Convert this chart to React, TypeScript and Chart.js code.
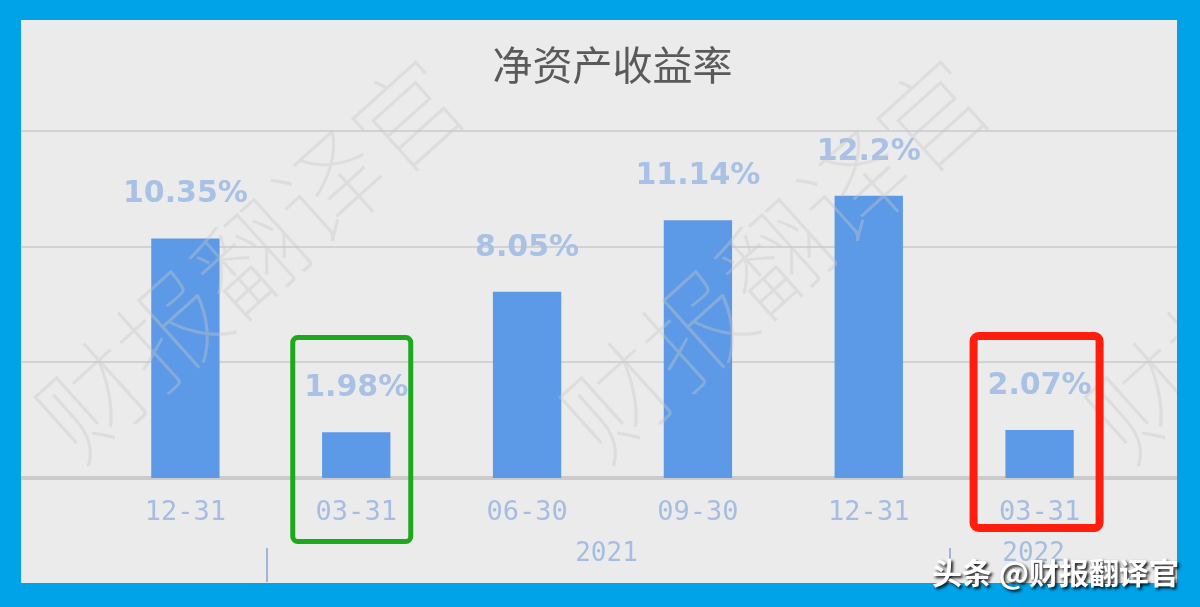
import React, { useEffect, useRef } from "react";
import { Chart, registerables } from "chart.js";

Chart.register(...registerables);

// ---- data ----
const categories = ["12-31", "03-31", "06-30", "09-30", "12-31", "03-31"];
const roeValues = [10.35, 1.98, 8.05, 11.14, 12.2, 2.07];
const yearLabels = ["2021", "2022"];
const yearStartIndex = [1, 5];
const yearEndIndex = [4, 5];
const yTicks = [0, 5, 10, 15];
const titleText = "净资产收益率";
const watermarkText = "财报翻译官";
const creditText = "头条 @财报翻译官";

const BORDER_BLUE = "#00a2e8";
const PANEL = "#ebebeb";
const BAR_COLOR = "#5c99e6";
const LABEL_COLOR = "#a9c1e4";
const TICK_COLOR = "#a6bde2";

const decorPlugin = {
  id: "decor",
  beforeDraw(chart: any) {
    const { ctx, width, height } = chart;
    const y = chart.scales.y;
    ctx.save();
    ctx.fillStyle = BORDER_BLUE;
    ctx.fillRect(0, 0, width, height);
    ctx.fillStyle = PANEL;
    ctx.fillRect(21, 20, 1156, 563);
    yTicks.forEach((v) => {
      const py = Math.round(y.getPixelForValue(v));
      ctx.beginPath();
      ctx.strokeStyle = v === 0 ? "#cbcbcb" : "#d2d2d2";
      ctx.lineWidth = v === 0 ? 4 : 2;
      ctx.moveTo(21, py);
      ctx.lineTo(1177, py);
      ctx.stroke();
    });
    ctx.restore();
  },
  afterDatasetsDraw(chart: any) {
    const { ctx } = chart;
    const xs = chart.scales.x;
    const meta = chart.getDatasetMeta(0);
    ctx.save();
    // value labels
    ctx.fillStyle = LABEL_COLOR;
    ctx.font = "bold 30px 'DejaVu Sans'";
    ctx.textAlign = "center";
    ctx.textBaseline = "middle";
    meta.data.forEach((bar: any, i: number) => {
      ctx.fillText(`${roeValues[i]}%`, bar.x, bar.y - 44);
    });
    // year group labels
    ctx.font = "26px 'DejaVu Sans Mono'";
    ctx.fillStyle = TICK_COLOR;
    yearLabels.forEach((lab, g) => {
      const x0 = xs.getPixelForValue(yearStartIndex[g]);
      const x1 = xs.getPixelForValue(yearEndIndex[g]);
      ctx.fillText(lab, (x0 + x1) / 2 - 6, 554);
      if (yearStartIndex[g] > 0) {
        const sx = Math.round(
          (xs.getPixelForValue(yearStartIndex[g] - 1) + x0) / 2
        ) - 4;
        ctx.beginPath();
        ctx.strokeStyle = "#9fb6dc";
        ctx.lineWidth = 2;
        ctx.moveTo(sx, 548);
        ctx.lineTo(sx, 582);
        ctx.stroke();
      }
    });
    ctx.restore();
  },
  afterDraw(chart: any) {
    const { ctx } = chart;
    const xs = chart.scales.x;
    ctx.save();
    // watermark
    ctx.fillStyle = "rgba(200,200,200,0.38)";
    ctx.font = "100 106px 'Noto Sans CJK SC'";
    ctx.textAlign = "center";
    ctx.textBaseline = "middle";
    [0, 1, 2].forEach((k) => {
      ctx.save();
      ctx.beginPath();
      ctx.rect(21, 20, 1156, 563);
      ctx.clip();
      ctx.translate(250 + 525 * k, 258);
      ctx.rotate((-42 * Math.PI) / 180);
      ctx.fillText(watermarkText, 0, 0);
      ctx.restore();
    });
    // highlight boxes
    const drawBox = (l: number, t: number, r: number, b: number, lw: number, color: string) => {
      ctx.beginPath();
      ctx.strokeStyle = color;
      ctx.lineWidth = lw;
      const h = lw / 2;
      ctx.roundRect(l + h, t + h, r - l - lw, b - t - lw, 5);
      ctx.stroke();
    };
    const p1 = xs.getPixelForValue(1);
    const p5 = xs.getPixelForValue(5);
    drawBox(p1 - 66, 335, p1 + 57, 544, 5, "#1ea81e");
    drawBox(p5 - 70, 332, p5 + 64, 532, 8, "#ff1d0d");
    // credit text
    ctx.font = "bold 30px 'Noto Sans CJK SC'";
    ctx.textAlign = "right";
    ctx.textBaseline = "middle";
    ctx.shadowColor = "rgba(0,0,0,0.9)";
    ctx.shadowBlur = 3;
    ctx.shadowOffsetX = 2;
    ctx.shadowOffsetY = 2;
    ctx.fillStyle = "#ffffff";
    ctx.fillText(creditText, 1179, 573);
    ctx.restore();
  },
};

export default function App() {
  const ref = useRef<HTMLCanvasElement | null>(null);
  useEffect(() => {
    if (!ref.current) return;
    const chart = new Chart(ref.current, {
      type: "bar",
      data: {
        labels: categories,
        datasets: [
          {
            data: roeValues,
            backgroundColor: BAR_COLOR,
            barPercentage: 0.4,
            categoryPercentage: 1,
          },
        ],
      },
      options: {
        responsive: false,
        devicePixelRatio: 1,
        animation: false,
        layout: { padding: { left: 100, right: 75, top: 0, bottom: 0 } },
        plugins: {
          legend: { display: false },
          tooltip: { enabled: false },
          title: {
            display: true,
            text: titleText,
            color: "#5a5a5a",
            font: { family: "'Noto Sans CJK SC'", size: 40, weight: "normal" as any },
            padding: { top: 41, bottom: 42 },
          },
        },
        scales: {
          x: {
            grid: { display: false, drawTicks: false },
            border: { display: false },
            ticks: {
              color: TICK_COLOR,
              font: { family: "'DejaVu Sans Mono'", size: 27 },
              padding: 19,
              maxRotation: 0,
              autoSkip: false,
            },
            afterFit(s: any) {
              s.height = 129;
            },
          },
          y: { display: false, min: 0, max: 15 },
        },
      },
      plugins: [decorPlugin],
    });
    return () => chart.destroy();
  }, []);
  return (
    <div style={{ position: "fixed", left: 0, top: 0, width: 1200, height: 607 }}>
      <canvas ref={ref} width={1200} height={607} />
    </div>
  );
}
